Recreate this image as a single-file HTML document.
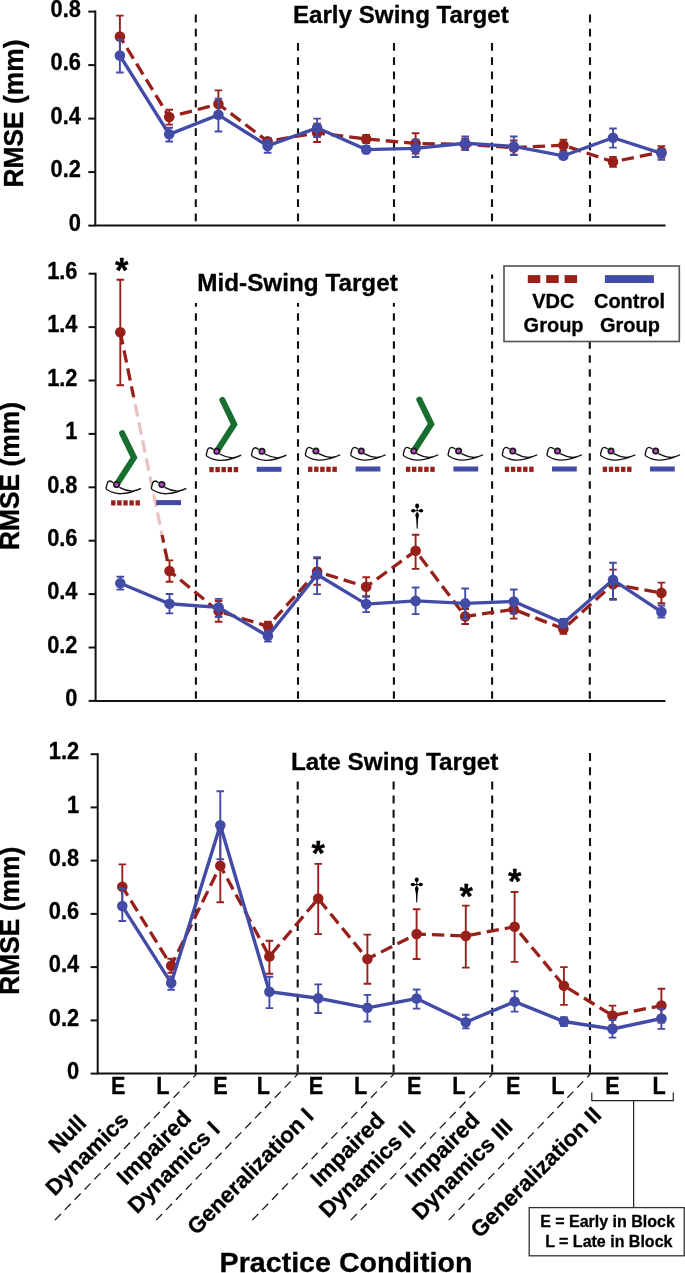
<!DOCTYPE html>
<html><head><meta charset="utf-8"><style>
html,body{margin:0;padding:0;background:#fff;}
svg{display:block;will-change:transform;}
text{font-family:"Liberation Sans", sans-serif;font-weight:bold;fill:#000;stroke:#000;stroke-width:0.3px;}
</style></head><body>
<svg width="685" height="1273" viewBox="0 0 685 1273">
<rect width="685" height="1273" fill="#fff"/>
<defs>
<clipPath id="inbox"><rect x="100" y="396.9" width="90" height="138"/></clipPath>
<clipPath id="outbox"><path clip-rule="evenodd" d="M0,0 H685 V1273 H0 Z M100,396.9 V534.9 H190 V396.9 Z"/></clipPath>
</defs>
<line x1="195.8" y1="14.6" x2="195.8" y2="225.6" stroke="#111" stroke-width="2.1" stroke-dasharray="7.8 6.40" stroke-dashoffset="0.00"/>
<line x1="298.0" y1="43.0" x2="298.0" y2="225.6" stroke="#111" stroke-width="2.1" stroke-dasharray="7.8 6.40" stroke-dashoffset="0.00"/>
<line x1="394.0" y1="43.0" x2="394.0" y2="225.6" stroke="#111" stroke-width="2.1" stroke-dasharray="7.8 6.40" stroke-dashoffset="0.00"/>
<line x1="492.0" y1="43.0" x2="492.0" y2="225.6" stroke="#111" stroke-width="2.1" stroke-dasharray="7.8 6.40" stroke-dashoffset="0.00"/>
<line x1="590.0" y1="14.6" x2="590.0" y2="225.6" stroke="#111" stroke-width="2.1" stroke-dasharray="7.8 6.40" stroke-dashoffset="0.00"/>
<path d="M95.3,10.599999999999994 L95.3,225.6 L665.6,225.6" fill="none" stroke="#111" stroke-width="2"/>
<line x1="88.3" y1="225.6" x2="95.3" y2="225.6" stroke="#111" stroke-width="2"/>
<text transform="translate(80.89999999999999,230.8) scale(0.97,1.05)" x="0" y="0" font-size="22.5" text-anchor="end">0</text>
<line x1="88.3" y1="172.1" x2="95.3" y2="172.1" stroke="#111" stroke-width="2"/>
<text transform="translate(80.89999999999999,177.3) scale(0.97,1.05)" x="0" y="0" font-size="22.5" text-anchor="end">0.2</text>
<line x1="88.3" y1="118.6" x2="95.3" y2="118.6" stroke="#111" stroke-width="2"/>
<text transform="translate(80.89999999999999,123.8) scale(0.97,1.05)" x="0" y="0" font-size="22.5" text-anchor="end">0.4</text>
<line x1="88.3" y1="65.1" x2="95.3" y2="65.1" stroke="#111" stroke-width="2"/>
<text transform="translate(80.89999999999999,70.3) scale(0.97,1.05)" x="0" y="0" font-size="22.5" text-anchor="end">0.6</text>
<line x1="88.3" y1="11.6" x2="95.3" y2="11.6" stroke="#111" stroke-width="2"/>
<text transform="translate(80.89999999999999,16.8) scale(0.97,1.05)" x="0" y="0" font-size="22.5" text-anchor="end">0.8</text>
<text transform="translate(23.200000000000003,113.55000000000001) rotate(-90) scale(1,1.08)" font-size="26.4" text-anchor="middle" x="0" y="0">RMSE (mm)</text>
<text x="292.9" y="22.8" font-size="23.5" textLength="215.8" lengthAdjust="spacingAndGlyphs">Early Swing Target</text>
<polyline points="119.9,36.5 169.2,117.0 218.4,104.1 267.6,141.3 317.1,132.8 366.2,139.0 415.6,143.4 465.2,144.4 513.8,147.6 563.4,145.2 613.0,161.8 661.4,151.9" fill="none" stroke="#98201a" stroke-width="3.3" stroke-dasharray="12.4 6.0" stroke-dashoffset="4.9"/>
<path d="M119.9,15.6 V57.4 M116.10000000000001,15.6 H123.7 M116.10000000000001,57.4 H123.7" stroke="#98201a" stroke-width="1.9" fill="none"/>
<circle cx="119.9" cy="36.5" r="5.3" fill="#98201a"/>
<path d="M169.2,109.7 V124.6 M165.39999999999998,109.7 H173.0 M165.39999999999998,124.6 H173.0" stroke="#98201a" stroke-width="1.9" fill="none"/>
<circle cx="169.2" cy="117.0" r="5.3" fill="#98201a"/>
<path d="M218.4,90.4 V118.0 M214.6,90.4 H222.20000000000002 M214.6,118.0 H222.20000000000002" stroke="#98201a" stroke-width="1.9" fill="none"/>
<circle cx="218.4" cy="104.1" r="5.3" fill="#98201a"/>
<path d="M267.6,138.2 V144.4 M263.8,138.2 H271.40000000000003 M263.8,144.4 H271.40000000000003" stroke="#98201a" stroke-width="1.9" fill="none"/>
<circle cx="267.6" cy="141.3" r="5.3" fill="#98201a"/>
<path d="M317.1,123.6 V142.0 M313.3,123.6 H320.90000000000003 M313.3,142.0 H320.90000000000003" stroke="#98201a" stroke-width="1.9" fill="none"/>
<circle cx="317.1" cy="132.8" r="5.3" fill="#98201a"/>
<path d="M366.2,135.0 V143.0 M362.4,135.0 H370.0 M362.4,143.0 H370.0" stroke="#98201a" stroke-width="1.9" fill="none"/>
<circle cx="366.2" cy="139.0" r="5.3" fill="#98201a"/>
<path d="M415.6,133.2 V153.6 M411.8,133.2 H419.40000000000003 M411.8,153.6 H419.40000000000003" stroke="#98201a" stroke-width="1.9" fill="none"/>
<circle cx="415.6" cy="143.4" r="5.3" fill="#98201a"/>
<path d="M465.2,138.8 V150.0 M461.4,138.8 H469.0 M461.4,150.0 H469.0" stroke="#98201a" stroke-width="1.9" fill="none"/>
<circle cx="465.2" cy="144.4" r="5.3" fill="#98201a"/>
<path d="M513.8,140.5 V154.6 M509.99999999999994,140.5 H517.5999999999999 M509.99999999999994,154.6 H517.5999999999999" stroke="#98201a" stroke-width="1.9" fill="none"/>
<circle cx="513.8" cy="147.6" r="5.3" fill="#98201a"/>
<path d="M563.4,139.7 V150.7 M559.6,139.7 H567.1999999999999 M559.6,150.7 H567.1999999999999" stroke="#98201a" stroke-width="1.9" fill="none"/>
<circle cx="563.4" cy="145.2" r="5.3" fill="#98201a"/>
<path d="M613.0,156.9 V166.7 M609.2,156.9 H616.8 M609.2,166.7 H616.8" stroke="#98201a" stroke-width="1.9" fill="none"/>
<circle cx="613.0" cy="161.8" r="5.3" fill="#98201a"/>
<path d="M661.4,146.3 V157.5 M657.6,146.3 H665.1999999999999 M657.6,157.5 H665.1999999999999" stroke="#98201a" stroke-width="1.9" fill="none"/>
<circle cx="661.4" cy="151.9" r="5.3" fill="#98201a"/>
<polyline points="119.9,55.6 169.2,134.3 218.4,114.8 267.6,145.9 317.1,127.8 366.2,149.6 415.6,148.4 465.2,143.2 513.8,146.4 563.4,155.8 613.0,137.7 661.4,153.3" fill="none" stroke="#424ca6" stroke-width="3.4"/>
<path d="M119.9,39.7 V72.5 M116.10000000000001,39.7 H123.7 M116.10000000000001,72.5 H123.7" stroke="#424ca6" stroke-width="1.9" fill="none"/>
<circle cx="119.9" cy="55.6" r="5.3" fill="#424ca6"/>
<path d="M169.2,127.7 V141.5 M165.39999999999998,127.7 H173.0 M165.39999999999998,141.5 H173.0" stroke="#424ca6" stroke-width="1.9" fill="none"/>
<circle cx="169.2" cy="134.3" r="5.3" fill="#424ca6"/>
<path d="M218.4,98.7 V131.5 M214.6,98.7 H222.20000000000002 M214.6,131.5 H222.20000000000002" stroke="#424ca6" stroke-width="1.9" fill="none"/>
<circle cx="218.4" cy="114.8" r="5.3" fill="#424ca6"/>
<path d="M267.6,139.9 V152.7 M263.8,139.9 H271.40000000000003 M263.8,152.7 H271.40000000000003" stroke="#424ca6" stroke-width="1.9" fill="none"/>
<circle cx="267.6" cy="145.9" r="5.3" fill="#424ca6"/>
<path d="M317.1,118.6 V137.0 M313.3,118.6 H320.90000000000003 M313.3,137.0 H320.90000000000003" stroke="#424ca6" stroke-width="1.9" fill="none"/>
<circle cx="317.1" cy="127.8" r="5.3" fill="#424ca6"/>
<path d="M366.2,146.0 V153.2 M362.4,146.0 H370.0 M362.4,153.2 H370.0" stroke="#424ca6" stroke-width="1.9" fill="none"/>
<circle cx="366.2" cy="149.6" r="5.3" fill="#424ca6"/>
<path d="M415.6,139.8 V157.0 M411.8,139.8 H419.40000000000003 M411.8,157.0 H419.40000000000003" stroke="#424ca6" stroke-width="1.9" fill="none"/>
<circle cx="415.6" cy="148.4" r="5.3" fill="#424ca6"/>
<path d="M465.2,136.5 V150.0 M461.4,136.5 H469.0 M461.4,150.0 H469.0" stroke="#424ca6" stroke-width="1.9" fill="none"/>
<circle cx="465.2" cy="143.2" r="5.3" fill="#424ca6"/>
<path d="M513.8,136.5 V155.0 M509.99999999999994,136.5 H517.5999999999999 M509.99999999999994,155.0 H517.5999999999999" stroke="#424ca6" stroke-width="1.9" fill="none"/>
<circle cx="513.8" cy="146.4" r="5.3" fill="#424ca6"/>
<path d="M563.4,152.5 V159.0 M559.6,152.5 H567.1999999999999 M559.6,159.0 H567.1999999999999" stroke="#424ca6" stroke-width="1.9" fill="none"/>
<circle cx="563.4" cy="155.8" r="5.3" fill="#424ca6"/>
<path d="M613.0,128.5 V147.6 M609.2,128.5 H616.8 M609.2,147.6 H616.8" stroke="#424ca6" stroke-width="1.9" fill="none"/>
<circle cx="613.0" cy="137.7" r="5.3" fill="#424ca6"/>
<path d="M661.4,149.6 V159.7 M657.6,149.6 H665.1999999999999 M657.6,159.7 H665.1999999999999" stroke="#424ca6" stroke-width="1.9" fill="none"/>
<circle cx="661.4" cy="153.3" r="5.3" fill="#424ca6"/>
<line x1="195.9" y1="302.9" x2="195.9" y2="700.9" stroke="#111" stroke-width="2.1" stroke-dasharray="7.6 6.40" stroke-dashoffset="3.70"/>
<line x1="298.0" y1="302.9" x2="298.0" y2="700.9" stroke="#111" stroke-width="2.1" stroke-dasharray="7.6 6.40" stroke-dashoffset="3.70"/>
<line x1="393.9" y1="302.9" x2="393.9" y2="700.9" stroke="#111" stroke-width="2.1" stroke-dasharray="7.6 6.40" stroke-dashoffset="3.70"/>
<line x1="492.1" y1="274.5" x2="492.1" y2="700.9" stroke="#111" stroke-width="2.1" stroke-dasharray="7.6 6.40" stroke-dashoffset="3.30"/>
<line x1="589.8" y1="341.2" x2="589.8" y2="700.9" stroke="#111" stroke-width="2.1" stroke-dasharray="7.6 6.40" stroke-dashoffset="0.00"/>
<path d="M95.6,272.69999999999993 L95.6,700.9 L665.4,700.9" fill="none" stroke="#111" stroke-width="2"/>
<line x1="88.6" y1="700.9" x2="95.6" y2="700.9" stroke="#111" stroke-width="2"/>
<text transform="translate(77.5,706.1) scale(0.97,1.05)" x="0" y="0" font-size="22.5" text-anchor="end">0</text>
<line x1="88.6" y1="647.5" x2="95.6" y2="647.5" stroke="#111" stroke-width="2"/>
<text transform="translate(77.5,652.7) scale(0.97,1.05)" x="0" y="0" font-size="22.5" text-anchor="end">0.2</text>
<line x1="88.6" y1="594.1" x2="95.6" y2="594.1" stroke="#111" stroke-width="2"/>
<text transform="translate(77.5,599.3) scale(0.97,1.05)" x="0" y="0" font-size="22.5" text-anchor="end">0.4</text>
<line x1="88.6" y1="540.7" x2="95.6" y2="540.7" stroke="#111" stroke-width="2"/>
<text transform="translate(77.5,545.9) scale(0.97,1.05)" x="0" y="0" font-size="22.5" text-anchor="end">0.6</text>
<line x1="88.6" y1="487.3" x2="95.6" y2="487.3" stroke="#111" stroke-width="2"/>
<text transform="translate(77.5,492.5) scale(0.97,1.05)" x="0" y="0" font-size="22.5" text-anchor="end">0.8</text>
<line x1="88.6" y1="433.9" x2="95.6" y2="433.9" stroke="#111" stroke-width="2"/>
<text transform="translate(77.5,439.1) scale(0.97,1.05)" x="0" y="0" font-size="22.5" text-anchor="end">1</text>
<line x1="88.6" y1="380.5" x2="95.6" y2="380.5" stroke="#111" stroke-width="2"/>
<text transform="translate(77.5,385.7) scale(0.97,1.05)" x="0" y="0" font-size="22.5" text-anchor="end">1.2</text>
<line x1="88.6" y1="327.1" x2="95.6" y2="327.1" stroke="#111" stroke-width="2"/>
<text transform="translate(77.5,332.3) scale(0.97,1.05)" x="0" y="0" font-size="22.5" text-anchor="end">1.4</text>
<line x1="88.6" y1="273.7" x2="95.6" y2="273.7" stroke="#111" stroke-width="2"/>
<text transform="translate(77.5,278.9) scale(0.97,1.05)" x="0" y="0" font-size="22.5" text-anchor="end">1.6</text>
<text transform="translate(19.0,476.0) rotate(-90) scale(1,1.08)" font-size="26.4" text-anchor="middle" x="0" y="0">RMSE (mm)</text>
<text x="197.3" y="290.9" font-size="23.5" textLength="200.5" lengthAdjust="spacingAndGlyphs">Mid-Swing Target</text>
<polyline points="120.3,332.3 169.5,571.0 218.6,611.3 267.9,626.2 317.1,571.6 366.2,586.8 415.6,550.8 465.2,616.4 513.8,609.4 563.4,628.9 613.0,584.3 661.4,592.9" fill="none" stroke="#98201a" stroke-width="3.3" stroke-dasharray="12.4 6.0" stroke-dashoffset="0" clip-path="url(#outbox)"/>
<polyline points="120.3,332.3 169.5,571.0 218.6,611.3 267.9,626.2 317.1,571.6 366.2,586.8 415.6,550.8 465.2,616.4 513.8,609.4 563.4,628.9 613.0,584.3 661.4,592.9" fill="none" stroke="#e9c2c2" stroke-width="3.3" stroke-dasharray="12.4 6.0" stroke-dashoffset="0" clip-path="url(#inbox)"/>
<path d="M120.3,279.7 V385.2 M116.5,279.7 H124.1 M116.5,385.2 H124.1" stroke="#98201a" stroke-width="1.9" fill="none"/>
<circle cx="120.3" cy="332.3" r="5.3" fill="#98201a"/>
<path d="M169.5,560.4 V581.7 M165.7,560.4 H173.3 M165.7,581.7 H173.3" stroke="#98201a" stroke-width="1.9" fill="none"/>
<circle cx="169.5" cy="571.0" r="5.3" fill="#98201a"/>
<path d="M218.6,601.0 V621.7 M214.79999999999998,601.0 H222.4 M214.79999999999998,621.7 H222.4" stroke="#98201a" stroke-width="1.9" fill="none"/>
<circle cx="218.6" cy="611.3" r="5.3" fill="#98201a"/>
<path d="M267.9,621.7 V631.0 M264.09999999999997,621.7 H271.7 M264.09999999999997,631.0 H271.7" stroke="#98201a" stroke-width="1.9" fill="none"/>
<circle cx="267.9" cy="626.2" r="5.3" fill="#98201a"/>
<path d="M317.1,558.4 V584.8 M313.3,558.4 H320.90000000000003 M313.3,584.8 H320.90000000000003" stroke="#98201a" stroke-width="1.9" fill="none"/>
<circle cx="317.1" cy="571.6" r="5.3" fill="#98201a"/>
<path d="M366.2,577.3 V596.3 M362.4,577.3 H370.0 M362.4,596.3 H370.0" stroke="#98201a" stroke-width="1.9" fill="none"/>
<circle cx="366.2" cy="586.8" r="5.3" fill="#98201a"/>
<path d="M415.6,534.7 V568.9 M411.8,534.7 H419.40000000000003 M411.8,568.9 H419.40000000000003" stroke="#98201a" stroke-width="1.9" fill="none"/>
<circle cx="415.6" cy="550.8" r="5.3" fill="#98201a"/>
<path d="M465.2,609.0 V624.0 M461.4,609.0 H469.0 M461.4,624.0 H469.0" stroke="#98201a" stroke-width="1.9" fill="none"/>
<circle cx="465.2" cy="616.4" r="5.3" fill="#98201a"/>
<path d="M513.8,600.2 V618.6 M509.99999999999994,600.2 H517.5999999999999 M509.99999999999994,618.6 H517.5999999999999" stroke="#98201a" stroke-width="1.9" fill="none"/>
<circle cx="513.8" cy="609.4" r="5.3" fill="#98201a"/>
<path d="M563.4,624.0 V633.8 M559.6,624.0 H567.1999999999999 M559.6,633.8 H567.1999999999999" stroke="#98201a" stroke-width="1.9" fill="none"/>
<circle cx="563.4" cy="628.9" r="5.3" fill="#98201a"/>
<path d="M613.0,569.6 V599.0 M609.2,569.6 H616.8 M609.2,599.0 H616.8" stroke="#98201a" stroke-width="1.9" fill="none"/>
<circle cx="613.0" cy="584.3" r="5.3" fill="#98201a"/>
<path d="M661.4,582.6 V603.2 M657.6,582.6 H665.1999999999999 M657.6,603.2 H665.1999999999999" stroke="#98201a" stroke-width="1.9" fill="none"/>
<circle cx="661.4" cy="592.9" r="5.3" fill="#98201a"/>
<polyline points="120.3,583.2 169.5,603.8 218.6,607.3 267.9,636.1 317.1,574.5 366.2,604.1 415.6,600.9 465.2,603.4 513.8,601.5 563.4,623.1 613.0,579.9 661.4,611.8" fill="none" stroke="#424ca6" stroke-width="3.4"/>
<path d="M120.3,576.7 V589.6 M116.5,576.7 H124.1 M116.5,589.6 H124.1" stroke="#424ca6" stroke-width="1.9" fill="none"/>
<circle cx="120.3" cy="583.2" r="5.3" fill="#424ca6"/>
<path d="M169.5,594.0 V613.4 M165.7,594.0 H173.3 M165.7,613.4 H173.3" stroke="#424ca6" stroke-width="1.9" fill="none"/>
<circle cx="169.5" cy="603.8" r="5.3" fill="#424ca6"/>
<path d="M218.6,598.9 V617.0 M214.79999999999998,598.9 H222.4 M214.79999999999998,617.0 H222.4" stroke="#424ca6" stroke-width="1.9" fill="none"/>
<circle cx="218.6" cy="607.3" r="5.3" fill="#424ca6"/>
<path d="M267.9,630.6 V641.6 M264.09999999999997,630.6 H271.7 M264.09999999999997,641.6 H271.7" stroke="#424ca6" stroke-width="1.9" fill="none"/>
<circle cx="267.9" cy="636.1" r="5.3" fill="#424ca6"/>
<path d="M317.1,557.1 V594.1 M313.3,557.1 H320.90000000000003 M313.3,594.1 H320.90000000000003" stroke="#424ca6" stroke-width="1.9" fill="none"/>
<circle cx="317.1" cy="574.5" r="5.3" fill="#424ca6"/>
<path d="M366.2,596.7 V612.1 M362.4,596.7 H370.0 M362.4,612.1 H370.0" stroke="#424ca6" stroke-width="1.9" fill="none"/>
<circle cx="366.2" cy="604.1" r="5.3" fill="#424ca6"/>
<path d="M415.6,587.5 V614.1 M411.8,587.5 H419.40000000000003 M411.8,614.1 H419.40000000000003" stroke="#424ca6" stroke-width="1.9" fill="none"/>
<circle cx="415.6" cy="600.9" r="5.3" fill="#424ca6"/>
<path d="M465.2,588.5 V619.0 M461.4,588.5 H469.0 M461.4,619.0 H469.0" stroke="#424ca6" stroke-width="1.9" fill="none"/>
<circle cx="465.2" cy="603.4" r="5.3" fill="#424ca6"/>
<path d="M513.8,589.5 V613.5 M509.99999999999994,589.5 H517.5999999999999 M509.99999999999994,613.5 H517.5999999999999" stroke="#424ca6" stroke-width="1.9" fill="none"/>
<circle cx="513.8" cy="601.5" r="5.3" fill="#424ca6"/>
<path d="M563.4,619.0 V627.2 M559.6,619.0 H567.1999999999999 M559.6,627.2 H567.1999999999999" stroke="#424ca6" stroke-width="1.9" fill="none"/>
<circle cx="563.4" cy="623.1" r="5.3" fill="#424ca6"/>
<path d="M613.0,562.7 V599.8 M609.2,562.7 H616.8 M609.2,599.8 H616.8" stroke="#424ca6" stroke-width="1.9" fill="none"/>
<circle cx="613.0" cy="579.9" r="5.3" fill="#424ca6"/>
<path d="M661.4,605.5 V617.5 M657.6,605.5 H665.1999999999999 M657.6,617.5 H665.1999999999999" stroke="#424ca6" stroke-width="1.9" fill="none"/>
<circle cx="661.4" cy="611.8" r="5.3" fill="#424ca6"/>
<line x1="195.8" y1="753.1" x2="195.8" y2="1073.6" stroke="#111" stroke-width="2.1" stroke-dasharray="8.0 6.15" stroke-dashoffset="0.00"/>
<line x1="297.7" y1="781.4" x2="297.7" y2="1073.6" stroke="#111" stroke-width="2.1" stroke-dasharray="8.0 6.15" stroke-dashoffset="14.15"/>
<line x1="393.6" y1="781.4" x2="393.6" y2="1073.6" stroke="#111" stroke-width="2.1" stroke-dasharray="8.0 6.15" stroke-dashoffset="14.15"/>
<line x1="492.2" y1="781.4" x2="492.2" y2="1073.6" stroke="#111" stroke-width="2.1" stroke-dasharray="8.0 6.15" stroke-dashoffset="14.15"/>
<line x1="590.0" y1="753.1" x2="590.0" y2="1073.6" stroke="#111" stroke-width="2.1" stroke-dasharray="8.0 6.15" stroke-dashoffset="0.00"/>
<path d="M97.7,753.1599999999999 L97.7,1073.6 L668.0,1073.6" fill="none" stroke="#111" stroke-width="2"/>
<line x1="90.6" y1="1073.6" x2="97.7" y2="1073.6" stroke="#111" stroke-width="2"/>
<text transform="translate(79.1,1078.8) scale(0.97,1.05)" x="0" y="0" font-size="22.5" text-anchor="end">0</text>
<line x1="90.6" y1="1020.4" x2="97.7" y2="1020.4" stroke="#111" stroke-width="2"/>
<text transform="translate(79.1,1025.6) scale(0.97,1.05)" x="0" y="0" font-size="22.5" text-anchor="end">0.2</text>
<line x1="90.6" y1="967.1" x2="97.7" y2="967.1" stroke="#111" stroke-width="2"/>
<text transform="translate(79.1,972.3) scale(0.97,1.05)" x="0" y="0" font-size="22.5" text-anchor="end">0.4</text>
<line x1="90.6" y1="913.9" x2="97.7" y2="913.9" stroke="#111" stroke-width="2"/>
<text transform="translate(79.1,919.1) scale(0.97,1.05)" x="0" y="0" font-size="22.5" text-anchor="end">0.6</text>
<line x1="90.6" y1="860.6" x2="97.7" y2="860.6" stroke="#111" stroke-width="2"/>
<text transform="translate(79.1,865.8) scale(0.97,1.05)" x="0" y="0" font-size="22.5" text-anchor="end">0.8</text>
<line x1="90.6" y1="807.4" x2="97.7" y2="807.4" stroke="#111" stroke-width="2"/>
<text transform="translate(79.1,812.6) scale(0.97,1.05)" x="0" y="0" font-size="22.5" text-anchor="end">1</text>
<line x1="90.6" y1="754.2" x2="97.7" y2="754.2" stroke="#111" stroke-width="2"/>
<text transform="translate(79.1,759.4) scale(0.97,1.05)" x="0" y="0" font-size="22.5" text-anchor="end">1.2</text>
<text transform="translate(19.3,920.75) rotate(-90) scale(1,1.08)" font-size="26.4" text-anchor="middle" x="0" y="0">RMSE (mm)</text>
<text x="290.9" y="769.8" font-size="23.5" textLength="207.5" lengthAdjust="spacingAndGlyphs">Late Swing Target</text>
<polyline points="122.3,886.7 171.2,965.7 220.3,865.7 269.4,956.5 318.2,898.6 367.4,959.0 416.6,934.1 465.8,935.9 514.6,926.7 563.9,985.8 612.5,1015.5 661.4,1005.6" fill="none" stroke="#98201a" stroke-width="3.3" stroke-dasharray="12.4 6.0" stroke-dashoffset="2"/>
<path d="M122.3,864.4 V909.0 M118.5,864.4 H126.1 M118.5,909.0 H126.1" stroke="#98201a" stroke-width="1.9" fill="none"/>
<circle cx="122.3" cy="886.7" r="5.3" fill="#98201a"/>
<path d="M171.2,958.7 V972.7 M167.39999999999998,958.7 H175.0 M167.39999999999998,972.7 H175.0" stroke="#98201a" stroke-width="1.9" fill="none"/>
<circle cx="171.2" cy="965.7" r="5.3" fill="#98201a"/>
<path d="M220.3,829.2 V902.2 M216.5,829.2 H224.10000000000002 M216.5,902.2 H224.10000000000002" stroke="#98201a" stroke-width="1.9" fill="none"/>
<circle cx="220.3" cy="865.7" r="5.3" fill="#98201a"/>
<path d="M269.4,940.8 V973.8 M265.59999999999997,940.8 H273.2 M265.59999999999997,973.8 H273.2" stroke="#98201a" stroke-width="1.9" fill="none"/>
<circle cx="269.4" cy="956.5" r="5.3" fill="#98201a"/>
<path d="M318.2,863.9 V934.1 M314.4,863.9 H322.0 M314.4,934.1 H322.0" stroke="#98201a" stroke-width="1.9" fill="none"/>
<circle cx="318.2" cy="898.6" r="5.3" fill="#98201a"/>
<path d="M367.4,934.6 V983.8 M363.59999999999997,934.6 H371.2 M363.59999999999997,983.8 H371.2" stroke="#98201a" stroke-width="1.9" fill="none"/>
<circle cx="367.4" cy="959.0" r="5.3" fill="#98201a"/>
<path d="M416.6,909.3 V959.0 M412.8,909.3 H420.40000000000003 M412.8,959.0 H420.40000000000003" stroke="#98201a" stroke-width="1.9" fill="none"/>
<circle cx="416.6" cy="934.1" r="5.3" fill="#98201a"/>
<path d="M465.8,905.6 V967.6 M462.0,905.6 H469.6 M462.0,967.6 H469.6" stroke="#98201a" stroke-width="1.9" fill="none"/>
<circle cx="465.8" cy="935.9" r="5.3" fill="#98201a"/>
<path d="M514.6,892.0 V961.9 M510.8,892.0 H518.4 M510.8,961.9 H518.4" stroke="#98201a" stroke-width="1.9" fill="none"/>
<circle cx="514.6" cy="926.7" r="5.3" fill="#98201a"/>
<path d="M563.9,967.1 V1004.9 M560.1,967.1 H567.6999999999999 M560.1,1004.9 H567.6999999999999" stroke="#98201a" stroke-width="1.9" fill="none"/>
<circle cx="563.9" cy="985.8" r="5.3" fill="#98201a"/>
<path d="M612.5,1005.6 V1025.4 M608.7,1005.6 H616.3 M608.7,1025.4 H616.3" stroke="#98201a" stroke-width="1.9" fill="none"/>
<circle cx="612.5" cy="1015.5" r="5.3" fill="#98201a"/>
<path d="M661.4,988.7 V1022.5 M657.6,988.7 H665.1999999999999 M657.6,1022.5 H665.1999999999999" stroke="#98201a" stroke-width="1.9" fill="none"/>
<circle cx="661.4" cy="1005.6" r="5.3" fill="#98201a"/>
<polyline points="122.3,906.1 171.2,983.1 220.3,825.2 269.4,991.7 318.2,998.3 367.4,1007.8 416.6,998.5 465.8,1022.2 514.6,1001.6 563.9,1021.5 612.5,1028.9 661.4,1018.5" fill="none" stroke="#424ca6" stroke-width="3.4"/>
<path d="M122.3,888.8 V921.0 M118.5,888.8 H126.1 M118.5,921.0 H126.1" stroke="#424ca6" stroke-width="1.9" fill="none"/>
<circle cx="122.3" cy="906.1" r="5.3" fill="#424ca6"/>
<path d="M171.2,976.4 V989.8 M167.39999999999998,976.4 H175.0 M167.39999999999998,989.8 H175.0" stroke="#424ca6" stroke-width="1.9" fill="none"/>
<circle cx="171.2" cy="983.1" r="5.3" fill="#424ca6"/>
<path d="M220.3,791.2 V859.2 M216.5,791.2 H224.10000000000002 M216.5,859.2 H224.10000000000002" stroke="#424ca6" stroke-width="1.9" fill="none"/>
<circle cx="220.3" cy="825.2" r="5.3" fill="#424ca6"/>
<path d="M269.4,976.8 V1008.1 M265.59999999999997,976.8 H273.2 M265.59999999999997,1008.1 H273.2" stroke="#424ca6" stroke-width="1.9" fill="none"/>
<circle cx="269.4" cy="991.7" r="5.3" fill="#424ca6"/>
<path d="M318.2,984.4 V1013.0 M314.4,984.4 H322.0 M314.4,1013.0 H322.0" stroke="#424ca6" stroke-width="1.9" fill="none"/>
<circle cx="318.2" cy="998.3" r="5.3" fill="#424ca6"/>
<path d="M367.4,994.9 V1021.5 M363.59999999999997,994.9 H371.2 M363.59999999999997,1021.5 H371.2" stroke="#424ca6" stroke-width="1.9" fill="none"/>
<circle cx="367.4" cy="1007.8" r="5.3" fill="#424ca6"/>
<path d="M416.6,989.5 V1008.6 M412.8,989.5 H420.40000000000003 M412.8,1008.6 H420.40000000000003" stroke="#424ca6" stroke-width="1.9" fill="none"/>
<circle cx="416.6" cy="998.5" r="5.3" fill="#424ca6"/>
<path d="M465.8,1014.8 V1028.4 M462.0,1014.8 H469.6 M462.0,1028.4 H469.6" stroke="#424ca6" stroke-width="1.9" fill="none"/>
<circle cx="465.8" cy="1022.2" r="5.3" fill="#424ca6"/>
<path d="M514.6,991.2 V1011.6 M510.8,991.2 H518.4 M510.8,1011.6 H518.4" stroke="#424ca6" stroke-width="1.9" fill="none"/>
<circle cx="514.6" cy="1001.6" r="5.3" fill="#424ca6"/>
<path d="M563.9,1017.3 V1026.0 M560.1,1017.3 H567.6999999999999 M560.1,1026.0 H567.6999999999999" stroke="#424ca6" stroke-width="1.9" fill="none"/>
<circle cx="563.9" cy="1021.5" r="5.3" fill="#424ca6"/>
<path d="M612.5,1020.0 V1037.6 M608.7,1020.0 H616.3 M608.7,1037.6 H616.3" stroke="#424ca6" stroke-width="1.9" fill="none"/>
<circle cx="612.5" cy="1028.9" r="5.3" fill="#424ca6"/>
<path d="M661.4,1008.6 V1028.9 M657.6,1008.6 H665.1999999999999 M657.6,1028.9 H665.1999999999999" stroke="#424ca6" stroke-width="1.9" fill="none"/>
<circle cx="661.4" cy="1018.5" r="5.3" fill="#424ca6"/>
<polyline points="116.6,484.6 134.00,457.60 122.20,433.30" fill="none" stroke="#176e2f" stroke-width="6.1" stroke-linecap="round" stroke-linejoin="miter"/>
<path d="M113.30,482.70 C112.10,481.70 111.10,481.00 109.90,481.00 C108.60,481.00 107.80,481.70 107.30,483.10 L106.10,487.90 C106.00,488.70 106.40,489.30 107.20,489.80 C111.10,492.20 116.10,493.90 121.10,493.70 C126.60,493.50 133.60,491.80 140.50,488.60 C137.60,490.10 135.10,490.80 132.10,491.10 C126.60,490.80 122.10,488.80 119.40,487.30" fill="#fff" stroke="#111" stroke-width="1.35" stroke-linejoin="round"/>
<circle cx="116.6" cy="484.6" r="2.7" fill="#bd4ccc" stroke="#1a1a1a" stroke-width="1.7"/>
<rect x="111.1" y="500.3" width="4.4" height="5.2" fill="#98201a"/>
<rect x="117.2" y="500.3" width="4.4" height="5.2" fill="#98201a"/>
<rect x="123.3" y="500.3" width="4.4" height="5.2" fill="#98201a"/>
<rect x="129.4" y="500.3" width="4.4" height="5.2" fill="#98201a"/>
<rect x="135.5" y="500.3" width="4.4" height="5.2" fill="#98201a"/>
<path d="M158.60,482.70 C157.40,481.70 156.40,481.00 155.20,481.00 C153.90,481.00 153.10,481.70 152.60,483.10 L151.40,487.90 C151.30,488.70 151.70,489.30 152.50,489.80 C156.40,492.20 161.40,493.90 166.40,493.70 C171.90,493.50 178.90,491.80 185.80,488.60 C182.90,490.10 180.40,490.80 177.40,491.10 C171.90,490.80 167.40,488.80 164.70,487.30" fill="#fff" stroke="#111" stroke-width="1.35" stroke-linejoin="round"/>
<circle cx="161.9" cy="484.6" r="2.7" fill="#bd4ccc" stroke="#1a1a1a" stroke-width="1.7"/>
<rect x="156.2" y="500.1" width="24.8" height="5.0" fill="#424ca6"/>
<polyline points="216.8,451.3 234.20,424.30 222.40,400.00" fill="none" stroke="#176e2f" stroke-width="6.1" stroke-linecap="round" stroke-linejoin="miter"/>
<path d="M213.50,449.40 C212.30,448.40 211.30,447.70 210.10,447.70 C208.80,447.70 208.00,448.40 207.50,449.80 L206.30,454.60 C206.20,455.40 206.60,456.00 207.40,456.50 C211.30,458.90 216.30,460.60 221.30,460.40 C226.80,460.20 233.80,458.50 240.70,455.30 C237.80,456.80 235.30,457.50 232.30,457.80 C226.80,457.50 222.30,455.50 219.60,454.00" fill="#fff" stroke="#111" stroke-width="1.35" stroke-linejoin="round"/>
<circle cx="216.8" cy="451.3" r="2.7" fill="#bd4ccc" stroke="#1a1a1a" stroke-width="1.7"/>
<rect x="209.3" y="467.0" width="4.4" height="5.2" fill="#98201a"/>
<rect x="215.4" y="467.0" width="4.4" height="5.2" fill="#98201a"/>
<rect x="221.5" y="467.0" width="4.4" height="5.2" fill="#98201a"/>
<rect x="227.6" y="467.0" width="4.4" height="5.2" fill="#98201a"/>
<rect x="233.7" y="467.0" width="4.4" height="5.2" fill="#98201a"/>
<path d="M258.70,449.40 C257.50,448.40 256.50,447.70 255.30,447.70 C254.00,447.70 253.20,448.40 252.70,449.80 L251.50,454.60 C251.40,455.40 251.80,456.00 252.60,456.50 C256.50,458.90 261.50,460.60 266.50,460.40 C272.00,460.20 279.00,458.50 285.90,455.30 C283.00,456.80 280.50,457.50 277.50,457.80 C272.00,457.50 267.50,455.50 264.80,454.00" fill="#fff" stroke="#111" stroke-width="1.35" stroke-linejoin="round"/>
<circle cx="262.0" cy="451.3" r="2.7" fill="#bd4ccc" stroke="#1a1a1a" stroke-width="1.7"/>
<rect x="256.7" y="466.8" width="24.8" height="5.0" fill="#424ca6"/>
<path d="M312.60,449.10 C311.40,448.10 310.40,447.40 309.20,447.40 C307.90,447.40 307.10,448.10 306.60,449.50 L305.40,454.30 C305.30,455.10 305.70,455.70 306.50,456.20 C310.40,458.60 315.40,460.30 320.40,460.10 C325.90,459.90 332.90,458.20 339.80,455.00 C336.90,456.50 334.40,457.20 331.40,457.50 C325.90,457.20 321.40,455.20 318.70,453.70" fill="#fff" stroke="#111" stroke-width="1.35" stroke-linejoin="round"/>
<circle cx="315.9" cy="451.0" r="2.7" fill="#bd4ccc" stroke="#1a1a1a" stroke-width="1.7"/>
<rect x="308.0" y="466.7" width="4.4" height="5.2" fill="#98201a"/>
<rect x="314.1" y="466.7" width="4.4" height="5.2" fill="#98201a"/>
<rect x="320.2" y="466.7" width="4.4" height="5.2" fill="#98201a"/>
<rect x="326.3" y="466.7" width="4.4" height="5.2" fill="#98201a"/>
<rect x="332.4" y="466.7" width="4.4" height="5.2" fill="#98201a"/>
<path d="M358.00,449.10 C356.80,448.10 355.80,447.40 354.60,447.40 C353.30,447.40 352.50,448.10 352.00,449.50 L350.80,454.30 C350.70,455.10 351.10,455.70 351.90,456.20 C355.80,458.60 360.80,460.30 365.80,460.10 C371.30,459.90 378.30,458.20 385.20,455.00 C382.30,456.50 379.80,457.20 376.80,457.50 C371.30,457.20 366.80,455.20 364.10,453.70" fill="#fff" stroke="#111" stroke-width="1.35" stroke-linejoin="round"/>
<circle cx="361.3" cy="451.0" r="2.7" fill="#bd4ccc" stroke="#1a1a1a" stroke-width="1.7"/>
<rect x="355.6" y="466.5" width="24.8" height="5.0" fill="#424ca6"/>
<polyline points="413.8,451.0 431.20,424.00 419.40,399.70" fill="none" stroke="#176e2f" stroke-width="6.1" stroke-linecap="round" stroke-linejoin="miter"/>
<path d="M410.50,449.10 C409.30,448.10 408.30,447.40 407.10,447.40 C405.80,447.40 405.00,448.10 404.50,449.50 L403.30,454.30 C403.20,455.10 403.60,455.70 404.40,456.20 C408.30,458.60 413.30,460.30 418.30,460.10 C423.80,459.90 430.80,458.20 437.70,455.00 C434.80,456.50 432.30,457.20 429.30,457.50 C423.80,457.20 419.30,455.20 416.60,453.70" fill="#fff" stroke="#111" stroke-width="1.35" stroke-linejoin="round"/>
<circle cx="413.8" cy="451.0" r="2.7" fill="#bd4ccc" stroke="#1a1a1a" stroke-width="1.7"/>
<rect x="405.9" y="466.7" width="4.4" height="5.2" fill="#98201a"/>
<rect x="412.0" y="466.7" width="4.4" height="5.2" fill="#98201a"/>
<rect x="418.1" y="466.7" width="4.4" height="5.2" fill="#98201a"/>
<rect x="424.2" y="466.7" width="4.4" height="5.2" fill="#98201a"/>
<rect x="430.3" y="466.7" width="4.4" height="5.2" fill="#98201a"/>
<path d="M455.30,449.10 C454.10,448.10 453.10,447.40 451.90,447.40 C450.60,447.40 449.80,448.10 449.30,449.50 L448.10,454.30 C448.00,455.10 448.40,455.70 449.20,456.20 C453.10,458.60 458.10,460.30 463.10,460.10 C468.60,459.90 475.60,458.20 482.50,455.00 C479.60,456.50 477.10,457.20 474.10,457.50 C468.60,457.20 464.10,455.20 461.40,453.70" fill="#fff" stroke="#111" stroke-width="1.35" stroke-linejoin="round"/>
<circle cx="458.6" cy="451.0" r="2.7" fill="#bd4ccc" stroke="#1a1a1a" stroke-width="1.7"/>
<rect x="453.4" y="466.5" width="24.8" height="5.0" fill="#424ca6"/>
<path d="M509.50,449.10 C508.30,448.10 507.30,447.40 506.10,447.40 C504.80,447.40 504.00,448.10 503.50,449.50 L502.30,454.30 C502.20,455.10 502.60,455.70 503.40,456.20 C507.30,458.60 512.30,460.30 517.30,460.10 C522.80,459.90 529.80,458.20 536.70,455.00 C533.80,456.50 531.30,457.20 528.30,457.50 C522.80,457.20 518.30,455.20 515.60,453.70" fill="#fff" stroke="#111" stroke-width="1.35" stroke-linejoin="round"/>
<circle cx="512.8" cy="451.0" r="2.7" fill="#bd4ccc" stroke="#1a1a1a" stroke-width="1.7"/>
<rect x="504.8" y="466.7" width="4.4" height="5.2" fill="#98201a"/>
<rect x="510.9" y="466.7" width="4.4" height="5.2" fill="#98201a"/>
<rect x="517.0" y="466.7" width="4.4" height="5.2" fill="#98201a"/>
<rect x="523.1" y="466.7" width="4.4" height="5.2" fill="#98201a"/>
<rect x="529.2" y="466.7" width="4.4" height="5.2" fill="#98201a"/>
<path d="M554.20,449.10 C553.00,448.10 552.00,447.40 550.80,447.40 C549.50,447.40 548.70,448.10 548.20,449.50 L547.00,454.30 C546.90,455.10 547.30,455.70 548.10,456.20 C552.00,458.60 557.00,460.30 562.00,460.10 C567.50,459.90 574.50,458.20 581.40,455.00 C578.50,456.50 576.00,457.20 573.00,457.50 C567.50,457.20 563.00,455.20 560.30,453.70" fill="#fff" stroke="#111" stroke-width="1.35" stroke-linejoin="round"/>
<circle cx="557.5" cy="451.0" r="2.7" fill="#bd4ccc" stroke="#1a1a1a" stroke-width="1.7"/>
<rect x="552.0" y="466.5" width="24.8" height="5.0" fill="#424ca6"/>
<path d="M607.70,449.10 C606.50,448.10 605.50,447.40 604.30,447.40 C603.00,447.40 602.20,448.10 601.70,449.50 L600.50,454.30 C600.40,455.10 600.80,455.70 601.60,456.20 C605.50,458.60 610.50,460.30 615.50,460.10 C621.00,459.90 628.00,458.20 634.90,455.00 C632.00,456.50 629.50,457.20 626.50,457.50 C621.00,457.20 616.50,455.20 613.80,453.70" fill="#fff" stroke="#111" stroke-width="1.35" stroke-linejoin="round"/>
<circle cx="611.0" cy="451.0" r="2.7" fill="#bd4ccc" stroke="#1a1a1a" stroke-width="1.7"/>
<rect x="602.7" y="466.7" width="4.4" height="5.2" fill="#98201a"/>
<rect x="608.8" y="466.7" width="4.4" height="5.2" fill="#98201a"/>
<rect x="614.9" y="466.7" width="4.4" height="5.2" fill="#98201a"/>
<rect x="621.0" y="466.7" width="4.4" height="5.2" fill="#98201a"/>
<rect x="627.1" y="466.7" width="4.4" height="5.2" fill="#98201a"/>
<path d="M652.40,449.10 C651.20,448.10 650.20,447.40 649.00,447.40 C647.70,447.40 646.90,448.10 646.40,449.50 L645.20,454.30 C645.10,455.10 645.50,455.70 646.30,456.20 C650.20,458.60 655.20,460.30 660.20,460.10 C665.70,459.90 672.70,458.20 679.60,455.00 C676.70,456.50 674.20,457.20 671.20,457.50 C665.70,457.20 661.20,455.20 658.50,453.70" fill="#fff" stroke="#111" stroke-width="1.35" stroke-linejoin="round"/>
<circle cx="655.7" cy="451.0" r="2.7" fill="#bd4ccc" stroke="#1a1a1a" stroke-width="1.7"/>
<rect x="650.0" y="466.5" width="24.8" height="5.0" fill="#424ca6"/>
<text x="121.6" y="281.8" font-size="34.5" text-anchor="middle" stroke="#000" stroke-width="0.5">*</text>
<path d="M416.59999999999997,507.8 L417.7,507.8 L417.65,510.8 L416.65,510.8 Z M414.95,510.25 L419.34999999999997,510.25 L419.34999999999997,511.35 L414.95,511.35 Z M417.15,511.40000000000003 L419.04999999999995,514.4 C418.75,516.3 418.25,517.8 418.04999999999995,519.8 L417.59999999999997,528.7 L416.7,528.7 L416.25,519.8 C416.04999999999995,517.8 415.54999999999995,516.3 415.25,514.4 Z" fill="#000"/>
<ellipse cx="417.15" cy="505.90000000000003" rx="2.0" ry="2.3" fill="#000"/>
<ellipse cx="413.25" cy="510.8" rx="2.2" ry="1.75" fill="#000"/>
<ellipse cx="421.04999999999995" cy="510.8" rx="2.2" ry="1.75" fill="#000"/>
<rect x="504" y="266" width="175.3" height="75.5" fill="#fff" stroke="#5a5a5a" stroke-width="1.7"/>
<rect x="527.8" y="275.1" width="12.5" height="7.9" fill="#98201a"/>
<rect x="546.2" y="275.1" width="12.5" height="7.9" fill="#98201a"/>
<rect x="564.6" y="275.1" width="12.5" height="7.9" fill="#98201a"/>
<rect x="604.9" y="275.1" width="49" height="7.9" fill="#424ca6"/>
<text x="553.4" y="307.8" font-size="20" text-anchor="middle" >VDC</text>
<text x="553.6" y="331.8" font-size="20" text-anchor="middle" >Group</text>
<text x="629.5" y="307.8" font-size="20" text-anchor="middle" >Control</text>
<text x="629.9" y="331.8" font-size="20" text-anchor="middle" >Group</text>
<text x="318.25" y="864.7" font-size="34.5" text-anchor="middle" stroke="#000" stroke-width="0.5">*</text>
<text x="466.2" y="907.7" font-size="34.5" text-anchor="middle" stroke="#000" stroke-width="0.5">*</text>
<text x="514.6" y="893.0" font-size="34.5" text-anchor="middle" stroke="#000" stroke-width="0.5">*</text>
<path d="M416.2,881.6 L417.3,881.6 L417.25,884.6 L416.25,884.6 Z M414.55,884.0500000000001 L418.95,884.0500000000001 L418.95,885.15 L414.55,885.15 Z M416.75,885.2 L418.65,888.2 C418.35,890.1 417.85,891.6 417.65,893.6 L417.2,902.5 L416.3,902.5 L415.85,893.6 C415.65,891.6 415.15,890.1 414.85,888.2 Z" fill="#000"/>
<ellipse cx="416.75" cy="879.7" rx="2.0" ry="2.3" fill="#000"/>
<ellipse cx="412.85" cy="884.6" rx="2.2" ry="1.75" fill="#000"/>
<ellipse cx="420.65" cy="884.6" rx="2.2" ry="1.75" fill="#000"/>
<text transform="translate(118.2,1093.8) scale(1,1.06)" x="0" y="0" font-size="21.7" text-anchor="middle">E</text>
<text transform="translate(163,1093.8) scale(1,1.06)" x="0" y="0" font-size="21.7" text-anchor="middle">L</text>
<text transform="translate(220.6,1093.8) scale(1,1.06)" x="0" y="0" font-size="21.7" text-anchor="middle">E</text>
<text transform="translate(263.3,1093.8) scale(1,1.06)" x="0" y="0" font-size="21.7" text-anchor="middle">L</text>
<text transform="translate(316,1093.8) scale(1,1.06)" x="0" y="0" font-size="21.7" text-anchor="middle">E</text>
<text transform="translate(360.6,1093.8) scale(1,1.06)" x="0" y="0" font-size="21.7" text-anchor="middle">L</text>
<text transform="translate(414.3,1093.8) scale(1,1.06)" x="0" y="0" font-size="21.7" text-anchor="middle">E</text>
<text transform="translate(458.8,1093.8) scale(1,1.06)" x="0" y="0" font-size="21.7" text-anchor="middle">L</text>
<text transform="translate(513.2,1093.8) scale(1,1.06)" x="0" y="0" font-size="21.7" text-anchor="middle">E</text>
<text transform="translate(558,1093.8) scale(1,1.06)" x="0" y="0" font-size="21.7" text-anchor="middle">L</text>
<text transform="translate(612.5,1093.8) scale(1,1.06)" x="0" y="0" font-size="21.7" text-anchor="middle">E</text>
<text transform="translate(659.2,1093.8) scale(1,1.06)" x="0" y="0" font-size="21.7" text-anchor="middle">L</text>
<line x2="196.3" y2="1074.3" x1="54.9" y1="1220.1" stroke="#1a1a1a" stroke-width="1.3" stroke-dasharray="8.6 5.6"/>
<line x2="297.6" y2="1074.3" x1="156.2" y1="1220.1" stroke="#1a1a1a" stroke-width="1.3" stroke-dasharray="8.6 5.6"/>
<line x2="393.7" y2="1074.3" x1="252.3" y1="1220.1" stroke="#1a1a1a" stroke-width="1.3" stroke-dasharray="8.6 5.6"/>
<line x2="492.2" y2="1074.3" x1="350.8" y1="1220.1" stroke="#1a1a1a" stroke-width="1.3" stroke-dasharray="8.6 5.6"/>
<line x2="590.1" y2="1074.3" x1="448.7" y1="1220.1" stroke="#1a1a1a" stroke-width="1.3" stroke-dasharray="8.6 5.6"/>
<g transform="translate(76.9,1143.5) rotate(-45)"><text x="0" y="-6.0" font-size="22.5" text-anchor="middle">Null</text><text x="0" y="22.0" font-size="22.5" text-anchor="middle">Dynamics</text></g>
<g transform="translate(163.5,1157) rotate(-45)"><text x="0" y="-6.0" font-size="22.5" text-anchor="middle">Impaired</text><text x="0" y="22.0" font-size="22.5" text-anchor="middle">Dynamics I</text></g>
<g transform="translate(250,1171) rotate(-45)"><text x="0" y="8.0" font-size="22.5" text-anchor="middle">Generalization I</text></g>
<g transform="translate(357,1159) rotate(-45)"><text x="0" y="-6.0" font-size="22.5" text-anchor="middle">Impaired</text><text x="0" y="22.0" font-size="22.5" text-anchor="middle">Dynamics II</text></g>
<g transform="translate(452,1159) rotate(-45)"><text x="0" y="-6.0" font-size="22.5" text-anchor="middle">Impaired</text><text x="0" y="22.0" font-size="22.5" text-anchor="middle">Dynamics III</text></g>
<g transform="translate(535.5,1172) rotate(-45)"><text x="0" y="8.0" font-size="22.5" text-anchor="middle">Generalization II</text></g>
<path d="M591.8,1092.5 V1100.7 H673.3 V1092.5 M633.6,1100.7 V1207.8" fill="none" stroke="#222" stroke-width="1.2"/>
<rect x="529.2" y="1207.6" width="155" height="48.2" fill="#fff" stroke="#333" stroke-width="1.3"/>
<text x="607.5" y="1226.9" font-size="16" text-anchor="middle" >E = Early in Block</text>
<text x="608.8" y="1246.9" font-size="16" text-anchor="middle" >L = Late in Block</text>
<text x="219.6" y="1272" font-size="27" text-anchor="start" textLength="252.8" lengthAdjust="spacingAndGlyphs">Practice Condition</text>
</svg></body></html>
